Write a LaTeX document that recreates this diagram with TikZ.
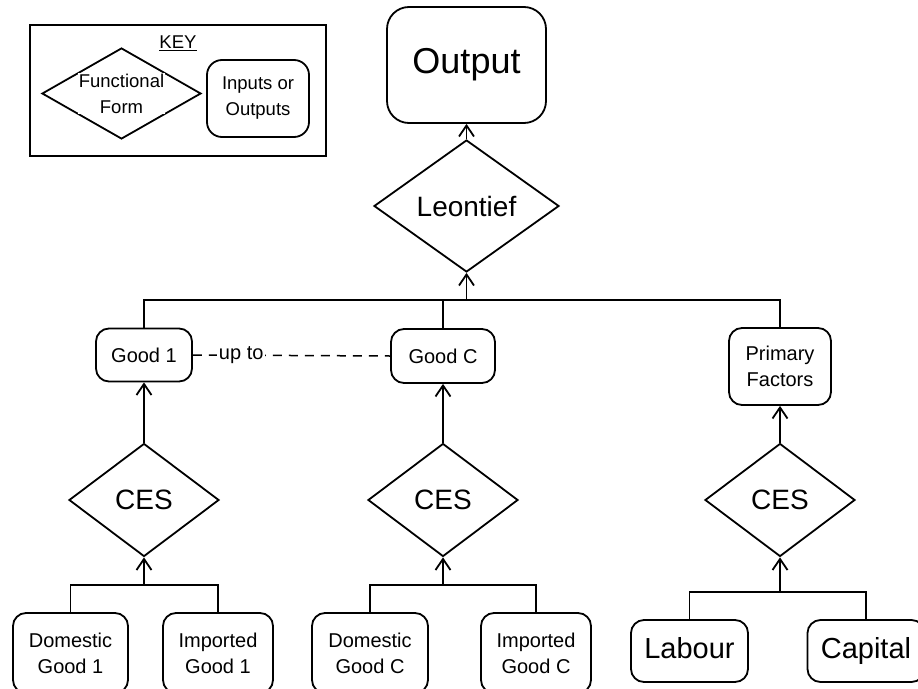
\documentclass[tikz,border=0pt]{standalone}
\usepackage{fontspec}
\setmainfont{Liberation Sans}
\usetikzlibrary{shapes.geometric,arrows.meta}

\tikzset{
  outline/.style={draw, line width=1.8pt},
  box/.style={outline, rounded corners=13pt, align=center, inner sep=0pt,
    font=\fontsize{20}{26}\selectfont},
  bigbox/.style={box, font=\fontsize{29}{34}\selectfont, text height=21pt,
    text depth=6pt},
  func/.style={outline, diamond, inner sep=0pt, minimum width=150pt,
    minimum height=113pt, font=\fontsize{28}{32}\selectfont},
  keytext/.style={font=\fontsize{18.5}{26}\selectfont, align=center, inner sep=1pt},
  link/.style={line width=1.8pt},
  feed/.style={link, -{Straight Barb[length=11pt,width=15pt,line width=1.8pt]}},
  upto/.style={line width=1.5pt, dash pattern=on 9pt off 7pt},
}

\begin{document}
\begin{tikzpicture}[x=1pt, y=-1pt]
\useasboundingbox (0,0) rectangle (918,688);
\clip (0,0) rectangle (918,688);
\fill[white] (0,0) rectangle (918,688);

% key
\node[draw, line width=2.7pt, minimum width=296pt, minimum height=131pt,
  inner sep=0pt] (key) at (178,90.5) {};
\node[keytext] (keytitle) at (178,43) {\underline{KEY}};
\node[outline, diamond, minimum width=159pt, minimum height=91pt,
  inner sep=0pt] (keyform) at (121.5,93.5) {};
\node[keytext, fill=white] (keyformtext) at (121.5,93.5) {Functional\\Form};
\node[box, font=\fontsize{18.5}{26}\selectfont, rounded corners=15pt,
  minimum width=102pt, minimum height=77pt] (keyio) at (258,98.5)
  {Inputs or\\Outputs};

% top level
\node[box, rounded corners=22pt, font=\fontsize{36}{40}\selectfont,
  minimum width=159pt, minimum height=116pt] (out) at (466.5,65) {Output};
\node[func, minimum width=185pt, minimum height=132pt] (leo) at (466.5,206)
  {Leontief};

% composite goods
\node[box, minimum width=96pt, minimum height=53pt] (g1) at (144,355) {Good 1};
\node[box, minimum width=104pt, minimum height=54pt] (gc) at (443,356) {Good C};
\node[box, minimum width=102pt, minimum height=77pt] (pf) at (780,366.5)
  {Primary\\Factors};

% CES nests
\node[func] (ces1) at (144,500) {CES};
\node[func] (cesc) at (443,500) {CES};
\node[func] (cesf) at (780,500) {CES};

% inputs
\node[box, minimum width=115pt, minimum height=80pt] (dg1) at (70.5,653)
  {Domestic\\Good 1};
\node[box, minimum width=110pt, minimum height=80pt] (ig1) at (218,653)
  {Imported\\Good 1};
\node[box, minimum width=116pt, minimum height=80pt] (dgc) at (370,653)
  {Domestic\\Good C};
\node[box, minimum width=110pt, minimum height=80pt] (igc) at (536,653)
  {Imported\\Good C};
\node[bigbox, minimum width=117pt, minimum height=62pt] (lab) at (689.5,651)
  {Labour};
\node[bigbox, minimum width=117pt, minimum height=62pt] (cap) at (866,651)
  {Capital};

% junction points
\coordinate (bus) at (466.5,300);
\coordinate (bus1) at (144,585);
\coordinate (busc) at (443,585);
\coordinate (busf) at (780,592);

% upper tree
\draw[feed] (leo.north) -- (out.south);
\draw[link] (g1.north) |- (bus) -| (pf.north);
\draw[link] (gc.north) -- (gc.north |- bus);
\draw[feed] (bus) -- (leo.south);
\draw[upto] (g1.east) -- node[pos=0.245, fill=white, inner sep=2pt,
  font=\fontsize{20}{24}\selectfont] (uptolabel) {up to} (gc.west);

% goods nests
\draw[feed] (ces1.north) -- (g1.south);
\draw[feed] (bus1) -- (ces1.south);
\draw[link] (dg1.north) |- (bus1) -| (ig1.north);

\draw[feed] (cesc.north) -- (gc.south);
\draw[feed] (busc) -- (cesc.south);
\draw[link] (dgc.north) |- (busc) -| (igc.north);

% factor nest
\draw[feed] (cesf.north) -- (pf.south);
\draw[feed] (busf) -- (cesf.south);
\draw[link] (lab.north) |- (busf) -| (cap.north);
\end{tikzpicture}
\end{document}
